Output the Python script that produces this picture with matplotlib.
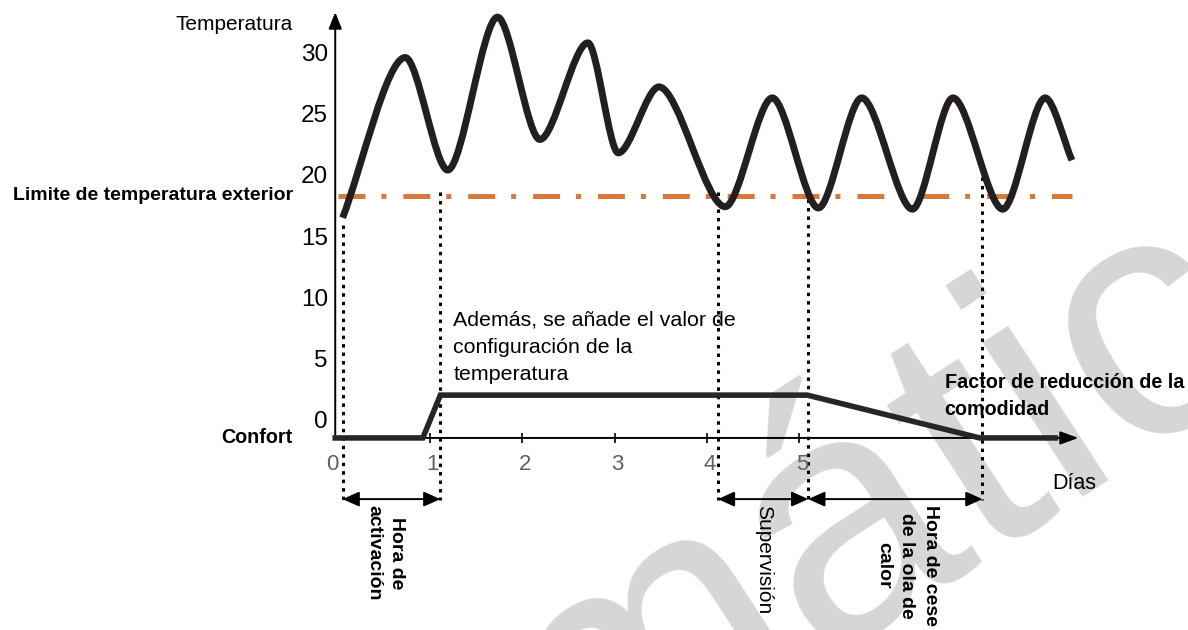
import matplotlib
matplotlib.use("Agg")
import matplotlib.pyplot as plt
from matplotlib.path import Path
from matplotlib.patches import PathPatch

plt.rcParams['font.family'] = ['Liberation Sans', 'DejaVu Sans']
plt.rcParams['lines.scale_dashes'] = False

# Temperatura exterior (extremos)
dias_temp = [0.05, 0.73, 1.19, 1.73, 2.19, 2.71, 3.04, 3.48, 4.20, 4.71,
             5.21, 5.68, 6.23, 6.67, 7.21, 7.67, 7.96]
temp = [16.7, 29.8, 20.6, 33.1, 23.1, 31.0, 22.0, 27.4, 17.6, 26.5,
        17.5, 26.5, 17.4, 26.5, 17.4, 26.5, 21.4]

# Curva de confort (desplazamiento sobre el eje)
dias_conf = [-0.03, 0.92, 1.11, 5.09, 6.96, 7.78]
conf = [0, 0, 3.5, 3.5, 0, 0]

limite = 18.5
eje_y = -1.3

# Líneas verticales punteadas
dias_marca = [0.05, 1.11, 4.12, 5.10, 6.99]
tope_marca = [16.1, 18.8, 18.8, 18.2, 20.0]

yticks = [30, 25, 20, 15, 10, 5, 0]
xticks = [0, 1, 2, 3, 4, 5]

fig = plt.figure(figsize=(11.88, 6.3), dpi=100)
ax = fig.add_axes([0, 0, 1, 1])
ax.set_xlim(-3.666, 9.219)
ax.set_ylim(-17.0, 34.5)
ax.axis('off')

# marca de agua
ax.text(7.22, -9.1, "mático", fontsize=250, color='#d6d6d6', rotation=33,
        ha='center', va='baseline', rotation_mode='anchor', zorder=0)

# ejes con flecha
ax.annotate("", xy=(-0.03, 33.5), xytext=(-0.03, eje_y),
            arrowprops=dict(arrowstyle='-|>,head_length=1.0,head_width=0.4',
                            lw=1.4, color='black', shrinkA=0, shrinkB=0))
ax.annotate("", xy=(8.03, eje_y), xytext=(-0.03, eje_y),
            arrowprops=dict(arrowstyle='-|>,head_length=1.1,head_width=0.4',
                            lw=1.4, color='black', shrinkA=0, shrinkB=0))
ax.plot(xticks[1:], [eje_y] * 5, ls='none', marker='|', ms=7, mew=1.2, color='black')

for v in yticks:
    ax.text(-0.11, v, str(v), fontsize=17.5, ha='right', va='center')
for d in xticks:
    ax.text(d - 0.06 if d == 0 else d + 0.03, eje_y - 2.2, str(d), fontsize=16,
            color='#606060', ha='center', va='center')

ax.text(-0.49, 32.5, "Temperatura", fontsize=15, ha='right', va='center')
ax.text(-0.49, limite, "Limite de temperatura exterior", fontsize=14,
        fontweight='bold', ha='right', va='center')
ax.text(-0.49, eje_y, "Confort", fontsize=14.2, fontweight='bold',
        ha='right', va='center')
ax.text(7.99, -5.0, "Días", fontsize=15.5, ha='center', va='center')

# línea límite
ax.plot([0.0, 7.96], [limite, limite], color='#d9783c', lw=3.6,
        dashes=(19.4, 11.5, 3.6, 12.2), zorder=2)

# curva de temperatura (bezier entre extremos)
k = 0.3
verts = [(dias_temp[0], temp[0])]
codes = [Path.MOVETO]
n = len(dias_temp)
for i in range(1, n):
    x0, y0 = dias_temp[i - 1], temp[i - 1]
    x1, y1 = dias_temp[i], temp[i]
    dx = x1 - x0
    c1 = (x0 + k * dx, y0 + (k * (y1 - y0) if i == 1 else 0))
    c2 = (x1 - k * dx, y1 - (k * (y1 - y0) if i == n - 1 else 0))
    verts += [c1, c2, (x1, y1)]
    codes += [Path.CURVE4] * 3
ax.add_patch(PathPatch(Path(verts, codes), fill=False, lw=5, ec='#231f20',
                       capstyle='butt', joinstyle='round', zorder=3))

# curva de confort
ax.plot(dias_conf, [eje_y + c for c in conf], color='#262626', lw=4,
        solid_joinstyle='miter', zorder=3)

# líneas punteadas y flechas
for d, t in zip(dias_marca, tope_marca):
    ax.plot([d, d], [t, -6.4], color='black', lw=2.2, dashes=(2.5, 3.6), zorder=2)

flechas = [(dias_marca[0], dias_marca[1]), (dias_marca[2], dias_marca[3]),
           (dias_marca[3], dias_marca[4])]
for a, b in flechas:
    ax.annotate("", xy=(b, -6.3), xytext=(a, -6.3),
                arrowprops=dict(arrowstyle='<|-|>,head_length=1.0,head_width=0.45',
                                lw=1.4, color='black', shrinkA=0, shrinkB=0))

ax.text(1.25, 9.1, "Además, se añade el valor de\nconfiguración de la\ntemperatura",
        fontsize=15.4, ha='left', va='top', linespacing=1.55)
ax.text(6.58, 2.1, "Factor de reducción de la\ncomodidad", fontsize=14.2,
        fontweight='bold', ha='left', va='center', linespacing=1.55)

ax.text(0.51, -6.8, "Hora de\nactivación", fontsize=14, fontweight='bold',
        rotation=270, ha='center', va='top', linespacing=1.45)
ax.text(4.62, -6.8, "Supervisión", fontsize=15, rotation=270,
        ha='center', va='top')
ax.text(6.17, -6.8, "Hora de cese\nde la ola de\ncalor", fontsize=14,
        fontweight='bold', rotation=270, ha='center', va='top', linespacing=1.5)

fig.savefig("out.png", dpi=100)
